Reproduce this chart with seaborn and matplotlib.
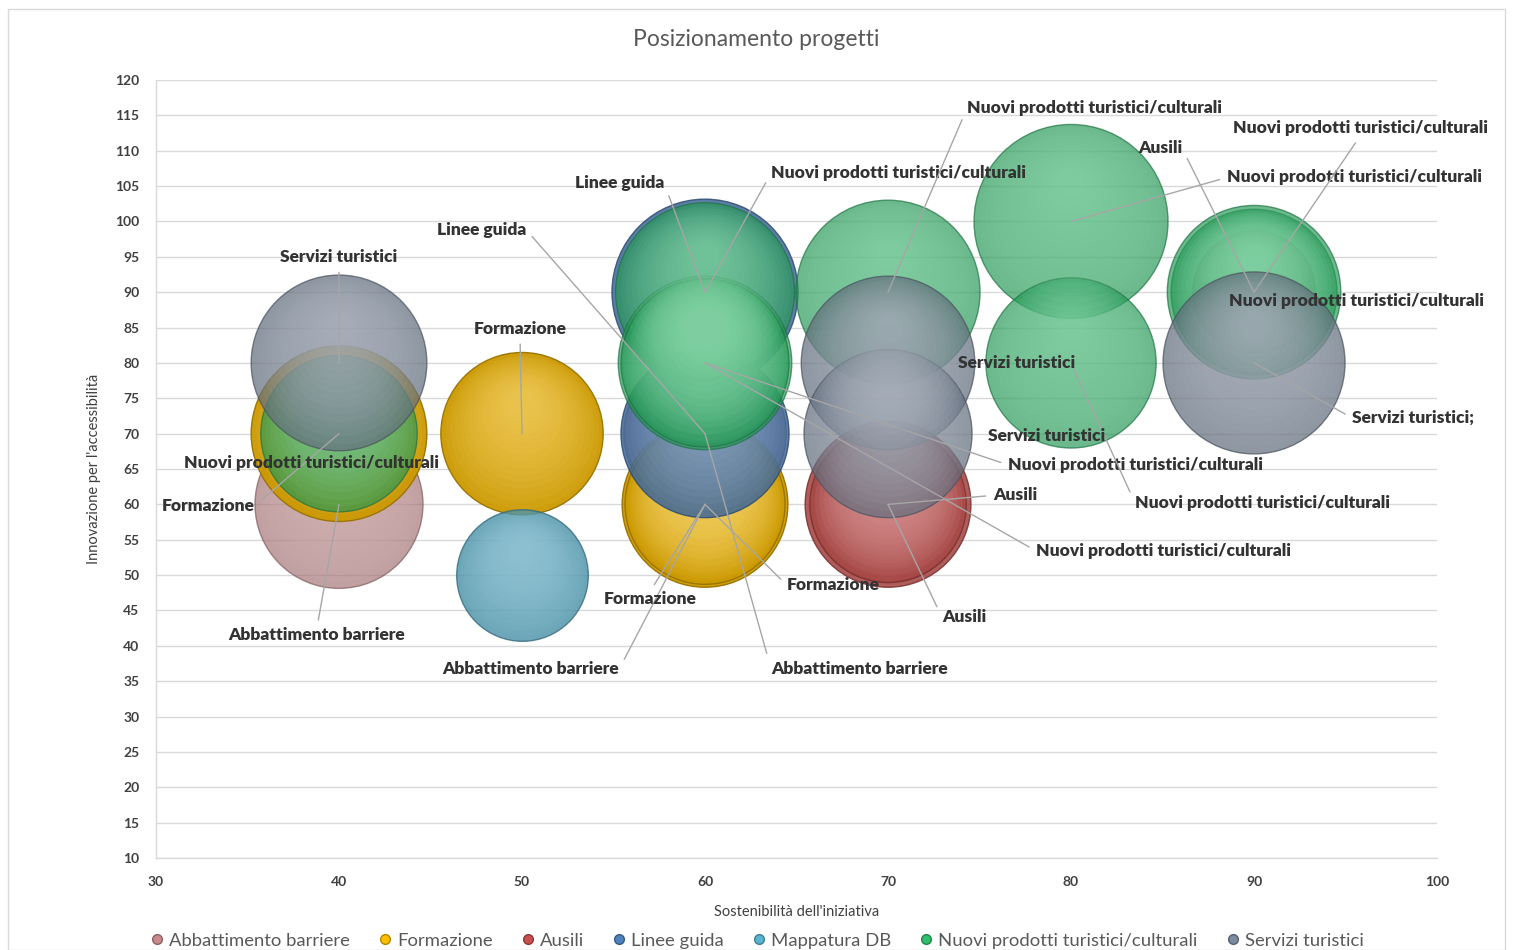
import numpy as np
import pandas as pd
import matplotlib
matplotlib.use("Agg")
import matplotlib.pyplot as plt
import matplotlib.transforms as mtransforms
from matplotlib.lines import Line2D
from matplotlib.patches import Rectangle
import seaborn as sns

# ------------------------------------------------------------------
# Dati (x = sostenibilità, y = innovazione, size = peso bolla)
# ------------------------------------------------------------------
series_names = ["Abbattimento barriere", "Formazione", "Ausili", "Linee guida",
                "Mappatura DB", "Nuovi prodotti turistici/culturali", "Servizi turistici"]

abbattimento_x = [40, 60, 60]
abbattimento_y = [60, 70, 60]
abbattimento_size = [75, 70, 65]

formazione_x = [40, 50, 60, 60]
formazione_y = [70, 70, 60, 60]
formazione_size = [82, 70, 73, 68]

ausili_x = [70, 70, 90]
ausili_y = [60, 60, 90]
ausili_size = [73, 65, 40]

linee_x = [60, 60]
linee_y = [90, 70]
linee_size = [92, 75]

mappatura_x = [50]
mappatura_y = [50]
mappatura_size = [46]

nuovi_x = [40, 60, 60, 60, 70, 80, 80, 90, 90]
nuovi_y = [70, 90, 80, 80, 90, 100, 80, 90, 90]
nuovi_size = [65, 85, 80, 75, 90, 100, 77, 73, 80]

servizi_x = [40, 70, 70, 90]
servizi_y = [80, 80, 70, 80]
servizi_size = [82, 80, 75, 88]
servizi_labels = ["Servizi turistici", "Servizi turistici", "Servizi turistici", "Servizi turistici;"]

x_ticks = [30, 40, 50, 60, 70, 80, 90, 100]
y_ticks = list(range(10, 125, 5))

frames = []
for name, xs, ys, ss, labs in [
    (series_names[0], abbattimento_x, abbattimento_y, abbattimento_size, None),
    (series_names[1], formazione_x, formazione_y, formazione_size, None),
    (series_names[2], ausili_x, ausili_y, ausili_size, None),
    (series_names[3], linee_x, linee_y, linee_size, None),
    (series_names[4], mappatura_x, mappatura_y, mappatura_size, [""]),
    (series_names[5], nuovi_x, nuovi_y, nuovi_size, None),
    (series_names[6], servizi_x, servizi_y, servizi_size, servizi_labels),
]:
    frames.append(pd.DataFrame({"serie": name, "x": xs, "y": ys, "size": ss,
                                "label": labs if labs else [name] * len(xs)}))
df = pd.concat(frames, ignore_index=True)

# ------------------------------------------------------------------
# Stile
# ------------------------------------------------------------------
colori = {
    "Abbattimento barriere": "#C98A8C",
    "Formazione": "#FFBF00",
    "Ausili": "#C9504E",
    "Linee guida": "#4F81BD",
    "Mappatura DB": "#5AB4D0",
    "Nuovi prodotti turistici/culturali": "#2EBE6C",
    "Servizi turistici": "#7D8B9E",
}
trasparenza = {
    "Abbattimento barriere": 0.65,
    "Formazione": 0.95,
    "Ausili": 0.85,
    "Linee guida": 0.85,
    "Mappatura DB": 0.8,
    "Nuovi prodotti turistici/culturali": 0.68,
    "Servizi turistici": 0.72,
}

# posizione etichette: (dx, dy in pixel dal punto, allineamento, linea guida)
label_layout = [
    (-22, -131, "center", True),   # Abbattimento 40,60
    (66, -235, "left", True),      # Abbattimento 60,70
    (-86, -165, "right", True),    # Abbattimento 60,60
    (-84, -72, "right", True),     # Formazione 40,70
    (-2, 105, "center", True),     # Formazione 50,70
    (-55, -95, "center", True),    # Formazione 60,60
    (82, -81, "left", True),       # Formazione 60,60
    (105, 9, "left", True),        # Ausili 70,60
    (54, -113, "left", True),      # Ausili 70,60
    (-72, 144, "right", True),     # Ausili 90,90
    (-41, 109, "right", True),     # Linee guida 60,90
    (-179, 204, "right", True),    # Linee guida 60,70
    (0, 0, "center", False),       # Mappatura DB
    (-27, -29, "center", False),   # Nuovi 40,70
    (66, 119, "left", True),       # Nuovi 60,90
    (303, -102, "left", True),     # Nuovi 60,80
    (331, -188, "left", True),     # Nuovi 60,80
    (79, 184, "left", True),       # Nuovi 70,90
    (156, 44, "left", True),       # Nuovi 80,100
    (64, -140, "left", True),      # Nuovi 80,80
    (106, 164, "center", True),    # Nuovi 90,90
    (-25, -9, "left", False),      # Nuovi 90,90
    (0, 106, "center", True),      # Servizi 40,80
    (129, 0, "center", False),     # Servizi 70,80
    (159, -2, "center", False),    # Servizi 70,70
    (98, -55, "left", True),       # Servizi 90,80
]

sns.set_theme(style="white")
plt.rcParams["font.family"] = ["Lato", "DejaVu Sans"]

fig, ax = plt.subplots(figsize=(15.13, 9.5), dpi=100)
fig.subplots_adjust(left=0.1031, right=0.9498, bottom=0.0968, top=0.9158)

max_area = (2 * 97 * 0.72) ** 2   # area (pt^2) della bolla con size = 100

for i, name in enumerate(series_names):
    sub = df[df["serie"] == name]
    base = np.array(matplotlib.colors.to_rgb(colori[name]))
    scuro = tuple(base * 0.8)
    chiaro = tuple(base * 0.55 + 0.45)
    sns.scatterplot(data=sub, x="x", y="y", size="size", sizes=(0, max_area),
                    size_norm=(0, 100), color=scuro, alpha=trasparenza[name],
                    edgecolor=tuple(base * 0.6), linewidth=1.0, legend=False,
                    ax=ax, zorder=3 + i)
    # effetto sfera: strati chiari concentrici spostati verso l'alto
    for _, row in sub.iterrows():
        area = max_area * row["size"] / 100
        r_pt = np.sqrt(area) / 2
        n = 16
        for k in range(1, n):
            f = 1 - 0.9 * k / n
            off = mtransforms.offset_copy(ax.transData, fig=fig, x=0,
                                          y=r_pt * 0.42 * k / n, units="points")
            ax.scatter([row["x"]], [row["y"]], s=area * f * f, color=chiaro,
                       alpha=0.07, linewidth=0, transform=off, zorder=3.5 + i)

# etichette con linee guida
for (idx, row), (dx, dy, ha, leader) in zip(df.iterrows(), label_layout):
    if not row["label"]:
        continue
    if ha == "left":
        rel = (0, 0.5)
    elif ha == "right":
        rel = (1, 0.5)
    else:
        rel = (0.5, 0) if dy > 0 else (0.5, 1)
    ax.annotate(row["label"], xy=(row["x"], row["y"]), xytext=(dx, dy),
                textcoords="offset pixels", ha=ha, va="center",
                fontsize=12.5, fontweight="heavy", color="#333333",
                zorder=20,
                arrowprops=dict(arrowstyle="-", color="#A6A6A6", lw=1.0,
                                shrinkA=3, shrinkB=0, relpos=rel) if leader else None)

# assi
ax.set_xlim(30, 100)
ax.set_ylim(10, 120)
ax.set_xticks(x_ticks)
ax.set_yticks(y_ticks)
ax.tick_params(axis="both", labelsize=10, colors="#404040", length=0)
ax.tick_params(axis="x", pad=13)
ax.tick_params(axis="y", pad=12)
for lab in ax.get_xticklabels() + ax.get_yticklabels():
    lab.set_fontweight("bold")
ax.yaxis.grid(True, color="#D9D9D9", lw=1)
ax.set_axisbelow(True)
for s in ["top", "right"]:
    ax.spines[s].set_visible(False)
for s in ["left", "bottom"]:
    ax.spines[s].set_color("#D9D9D9")
    ax.spines[s].set_linewidth(1)

ax.set_xlabel("Sostenibilità dell'iniziativa", fontsize=10.5, color="#404040", labelpad=12)
ax.set_ylabel("Innovazione per l'accessibilità", fontsize=10.5, color="#404040", labelpad=10)
fig.suptitle("Posizionamento progetti", fontsize=16.5, color="#595959", y=0.958, va="center")

# legenda
handles = [Line2D([0], [0], marker="o", linestyle="none", markerfacecolor=colori[n],
                  markeredgecolor=tuple(np.array(matplotlib.colors.to_rgb(colori[n])) * 0.7),
                  markersize=7, label=n) for n in series_names]
leg = fig.legend(handles=handles, loc="lower center", ncol=7, frameon=False,
                 bbox_to_anchor=(0.5, -0.016), fontsize=13.3, handlelength=0.8,
                 handletextpad=0.25, columnspacing=1.5)
for t in leg.get_texts():
    t.set_color("#595959")

# cornice esterna
fig.patches.append(Rectangle((0.005, 0.0), 0.99, 0.991, transform=fig.transFigure,
                             fill=False, edgecolor="#D9D9D9", lw=1))

fig.savefig("out.png", dpi=100)
